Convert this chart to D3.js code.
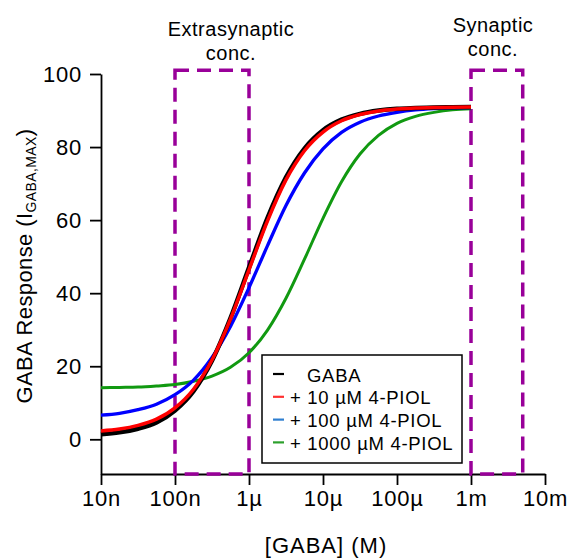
<!DOCTYPE html>
<html>
<head>
<meta charset="utf-8">
<script src="https://cdn.jsdelivr.net/npm/d3@7"></script>
<style>
  body { margin: 0; background: #fff; }
  text { font-family: "Liberation Sans", Arial, sans-serif; fill: #000; }
</style>
</head>
<body>
<div class="board"></div>
<script>
/*
=================================
DATA
=================================
*/
// GABA concentration (M), quarter decades from 10 nM to 1 mM
var gabaConc = [1e-8, 1.78e-8, 3.16e-8, 5.62e-8, 1e-7, 1.78e-7, 3.16e-7, 5.62e-7,
                1e-6, 1.78e-6, 3.16e-6, 5.62e-6, 1e-5, 1.78e-5, 3.16e-5, 5.62e-5,
                1e-4, 1.78e-4, 3.16e-4, 5.62e-4, 1e-3];

var gabaOnly = [1.4, 1.9, 2.9, 4.6, 7.9, 13.2, 21.5, 33.2, 47.0, 60.6, 71.7,
                79.6, 84.6, 87.5, 89.1, 90.0, 90.5, 90.7, 90.85, 90.9, 90.95];
var piol10   = [2.3, 2.8, 3.8, 5.5, 8.6, 13.7, 21.7, 32.9, 46.4, 59.8, 71.0,
                79.0, 84.1, 87.2, 88.9, 89.9, 90.4, 90.7, 90.8, 90.9, 90.95];
var piol100  = [6.6, 7.1, 8.1, 9.6, 12.2, 16.2, 22.4, 30.9, 41.5, 53.0, 64.0,
                72.9, 79.5, 84.0, 86.8, 88.5, 89.5, 90.15, 90.5, 90.7, 90.8];
var piol1000 = [14.1, 14.2, 14.3, 14.6, 15.0, 15.9, 17.3, 19.7, 23.7, 29.9, 38.6,
                49.3, 60.5, 70.5, 78.1, 83.2, 86.5, 88.4, 89.5, 90.2, 90.5];

var seriesNames  = ['GABA', '+ 10 µM 4-PIOL', '+ 100 µM 4-PIOL', '+ 1000 µM 4-PIOL'];
var seriesValues = [gabaOnly, piol10, piol100, piol1000];

var xTickValues = [1e-8, 1e-7, 1e-6, 1e-5, 1e-4, 1e-3, 1e-2];
var xTickLabels = ['10n', '100n', '1µ', '10µ', '100µ', '1m', '10m'];
var yTickValues = [0, 20, 40, 60, 80, 100];

// concentration windows (dashed boxes)
var extraRange = [1e-7, 1e-6];
var synRange   = [1e-3, 5e-3];
var boxTop = 101;


/*
=================================
STYLE
=================================
*/
var lineColors   = ['#000000', '#ff0000', '#0000ff', '#119911'];
var lineWidths   = [4.5, 3.5, 3.3, 3];
var legendColors = ['#000000', '#ff3030', '#2f7fd0', '#2ca02c'];
var boxColor = '#990099';
var drawOrder = [3, 2, 0, 1];


/*
=================================
CREATE BACKGROUND CONTAINER
=================================
*/
var svg = d3.select('.board').append('svg')
            .attr('width', 568)
            .attr('height', 560)
            .style('background', '#fff');

var x = d3.scaleLog().domain([1e-8, 1e-2]).range([101, 545]);
var y = d3.scaleLinear().domain([-9.5, 100]).range([474, 74]);


/*
=================================
AXES
=================================
*/
var xAxis = d3.axisBottom(x)
              .tickValues(xTickValues)
              .tickFormat((d, i) => xTickLabels[i])
              .tickSize(11)
              .tickSizeOuter(0)
              .tickPadding(5);

var yAxis = d3.axisLeft(y)
              .tickValues(yTickValues)
              .tickSize(11)
              .tickSizeOuter(0)
              .tickPadding(8);

var gx = svg.append('g')
            .attr('transform', 'translate(0,' + y(-9.5) + ')')
            .call(xAxis);

var gy = svg.append('g')
            .attr('transform', 'translate(' + x(1e-8) + ',0)')
            .call(yAxis);

[gx, gy].forEach(function(g) {
  g.attr('font-family', null).attr('font-size', null);
  g.selectAll('path, line').attr('stroke', '#000').attr('stroke-width', 1.8);
  g.selectAll('text').style('font-size', '22px').style('letter-spacing', '0.8px');
});

// axis titles
svg.append('text')
   .attr('x', 326)
   .attr('y', 553)
   .attr('text-anchor', 'middle')
   .style('font-size', '22px')
   .style('letter-spacing', '1px')
   .text('[GABA] (M)');

var yTitle = svg.append('text')
                .attr('transform', 'translate(32,266) rotate(-90)')
                .attr('text-anchor', 'middle')
                .style('font-size', '22px')
                .style('letter-spacing', '0.4px');
yTitle.append('tspan').text('GABA Response (I');
yTitle.append('tspan').attr('dy', 4).style('font-size', '14px').text('GABA,MAX');
yTitle.append('tspan').attr('dy', -4).text(')');


/*
=================================
CONCENTRATION WINDOWS
=================================
*/
[extraRange, synRange].forEach(function(r) {
  svg.append('rect')
     .attr('x', x(r[0]))
     .attr('y', y(boxTop))
     .attr('width', x(r[1]) - x(r[0]))
     .attr('height', y(-9.5) - y(boxTop))
     .attr('fill', 'none')
     .attr('stroke', boxColor)
     .attr('stroke-width', 3.5)
     .attr('stroke-dasharray', '14,8');
});

var topLabels = [['Extrasynaptic', 231, 36], ['conc.', 231, 60],
                 ['Synaptic', 493, 32], ['conc.', 493, 56]];
topLabels.forEach(function(t) {
  svg.append('text')
     .attr('x', t[1]).attr('y', t[2])
     .attr('text-anchor', 'middle')
     .style('font-size', '20px')
     .style('letter-spacing', '0.5px')
     .text(t[0]);
});


/*
=================================
CURVES
=================================
*/
var line = d3.line()
             .x((d, i) => x(gabaConc[i]))
             .y(d => y(d))
             .curve(d3.curveMonotoneX);

drawOrder.forEach(function(k) {
  svg.append('path')
     .datum(seriesValues[k])
     .attr('d', line)
     .attr('fill', 'none')
     .attr('stroke', lineColors[k])
     .attr('stroke-width', lineWidths[k]);
});


/*
=================================
LEGEND
=================================
*/
var legend = svg.append('g');

legend.append('rect')
      .attr('x', 262).attr('y', 355)
      .attr('width', 200).attr('height', 108)
      .attr('fill', '#fff')
      .attr('stroke', '#000')
      .attr('stroke-width', 1.5);

seriesNames.forEach(function(name, i) {
  var ly = 375 + i * 22.8;
  legend.append('line')
        .attr('x1', 273).attr('x2', 284)
        .attr('y1', ly - 1).attr('y2', ly - 1)
        .attr('stroke', legendColors[i])
        .attr('stroke-width', 2.2);
  legend.append('text')
        .attr('x', i === 0 ? 307 : 290)
        .attr('y', ly + 6.5)
        .style('font-size', '18.5px')
        .style('letter-spacing', '0.7px')
        .text(name);
});
</script>
</body>
</html>
